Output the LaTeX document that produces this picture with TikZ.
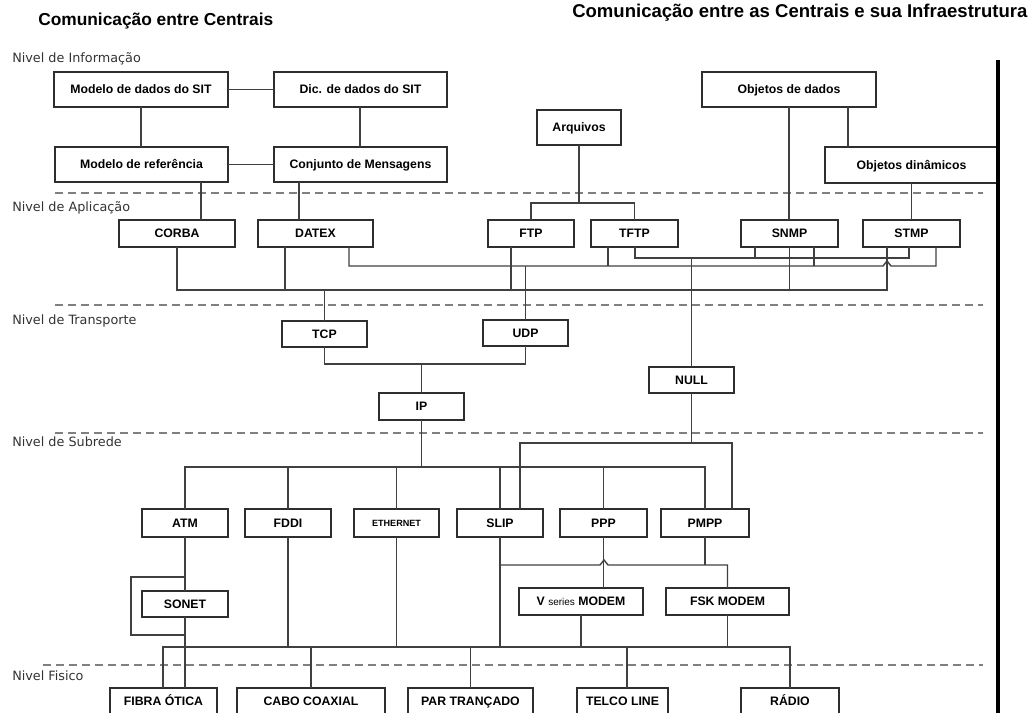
\documentclass[tikz,border=0pt]{standalone}
\usepackage{fontspec}
\setmainfont{Liberation Sans}
\newfontfamily\lvlfont{DejaVu Sans}

% \layerbox[extra options]{x1}{y1}{x2}{y2}{name}{text}: a framed box given by two corners
\newcommand\layerbox[7][]{%
  \node[box, minimum width={(#4-#2)*0.75pt}, minimum height={(#5-#3)*0.75pt}, #1]
    (#6) at ({(#2+#4)/2},{(#3+#5)/2}) {#7};}

\begin{document}
\begin{tikzpicture}[x=0.75pt,y=-0.75pt,
  box/.style={draw=black!82, line width=1.1pt, fill=white, inner sep=0pt, outer sep=0pt,
              text height=6.6pt, text depth=0pt,
              font=\fontsize{9.2}{10}\selectfont\bfseries},
  smallbox/.style={text height=4.9pt, font=\fontsize{6.8}{8}\selectfont\bfseries},
  wire/.style={draw=black!75, line width=1.05pt},
  levelline/.style={draw=black!50, line width=0.8pt, dash pattern=on 6pt off 3.75pt},
  lvl/.style={anchor=west, inner sep=0pt, text=black!80,
              font=\lvlfont\fontsize{9.6}{11}\selectfont},
  title/.style={anchor=west, inner sep=0pt}
]
\useasboundingbox (0,0) rectangle (1035,713);
\clip (0,0) rectangle (1035,713);

% ---------- titles and level names ----------
\node[title, font=\bfseries\fontsize{13}{15}\selectfont] (t1) at (38,21) {Comunicação entre Centrais};
\node[title, font=\bfseries\fontsize{13.9}{15}\selectfont] (t2) at (572,13) {Comunicação entre as Centrais e sua Infraestrutura};

\node[lvl] (lv1) at (12,59)  {Nivel de Informação};
\node[lvl] (lv2) at (12,208) {Nivel de Aplicação};
\node[lvl] (lv3) at (12,321) {Nivel de Transporte};
\node[lvl] (lv4) at (12,442) {Nivel de Subrede};
\node[lvl] (lv5) at (12,676) {Nivel Fisico};

% ---------- level separators ----------
\draw[levelline] (55,193) -- (983,193);
\draw[levelline] (55,305) -- (983,305);
\draw[levelline] (55,433) -- (983,433);
\draw[levelline] (43,665) -- (983,665);

% ---------- boxes ----------
% information level
\layerbox{54}{72}{228}{107}{mdados}{Modelo de dados do SIT}
\layerbox{274}{72}{447}{107}{dic}{Dic. de dados do SIT}
\layerbox{55}{147}{228}{182}{mref}{Modelo de referência}
\layerbox{274}{147}{447}{182}{conj}{Conjunto de Mensagens}
\layerbox{537}{110}{621}{145}{arq}{Arquivos}
\layerbox{702}{72}{876}{107}{objd}{Objetos de dados}
\layerbox{825}{147}{998}{183}{objdin}{Objetos dinâmicos}
% application level
\layerbox{119}{220}{235}{247}{corba}{CORBA}
\layerbox{258}{220}{373}{247}{datex}{DATEX}
\layerbox{488}{220}{574}{247}{ftp}{FTP}
\layerbox{591}{220}{678}{247}{tftp}{TFTP}
\layerbox{741}{220}{838}{247}{snmp}{SNMP}
\layerbox{863}{220}{960}{247}{stmp}{STMP}
% transport level
\layerbox{282}{321}{367}{347}{tcp}{TCP}
\layerbox{483}{320}{568}{346}{udp}{UDP}
\layerbox{379}{393}{464}{420}{ip}{IP}
\layerbox{649}{367}{734}{393}{null}{NULL}
% subnet level
\layerbox{142}{509}{228}{537}{atm}{ATM}
\layerbox{245}{509}{331}{537}{fddi}{FDDI}
\layerbox[smallbox]{354}{509}{439}{537}{eth}{ETHERNET}
\layerbox{457}{509}{543}{537}{slip}{SLIP}
\layerbox{560}{509}{647}{537}{ppp}{PPP}
\layerbox{661}{509}{749}{537}{pmpp}{PMPP}
\layerbox{142}{591}{228}{617}{sonet}{SONET}
\layerbox{519}{588}{643}{615}{vmod}{V {\mdseries\fontsize{7.5}{8}\selectfont series} MODEM}
\layerbox{666}{588}{789}{615}{fsk}{FSK MODEM}
% physical level (boxes run past the lower edge)
\layerbox{110}{688}{217}{714}{fibra}{FIBRA ÓTICA}
\layerbox{237}{688}{385}{714}{cabo}{CABO COAXIAL}
\layerbox{408}{688}{533}{714}{par}{PAR TRANÇADO}
\layerbox{577}{688}{668}{714}{telco}{TELCO LINE}
\layerbox{741}{688}{839}{714}{radio}{RÁDIO}

% ---------- bus lines ----------
\coordinate (busA) at (0,290);
\coordinate (busB) at (0,266);
\coordinate (busC) at (0,258);
\coordinate (busT) at (0,364);
\coordinate (busS) at (0,467);
\coordinate (busN) at (0,443);
\coordinate (busM) at (0,565);
\coordinate (busP) at (0,647);

% information level
\draw[wire] (mdados.east) -- (dic.west);
\draw[wire] (mref.east) -- (conj.west);
\draw[wire] (141,0 |- mdados.south) -- (141,0 |- mref.north);
\draw[wire] (360,0 |- dic.south) -- (360,0 |- conj.north);
\draw[wire] (201,0 |- mref.south) -- (201,0 |- corba.north);
\draw[wire] (299,0 |- conj.south) -- (299,0 |- datex.north);
\draw[wire] (arq.south) -- (arq.south |- 0,203);
\draw[wire] (ftp.north) -- (ftp.north |- 0,203) -- (tftp.north |- 0,203) -- (tftp.north);
\draw[wire] (objd.south) -- (objd.south |- snmp.north);
\draw[wire] (848,0 |- objd.south) -- (848,0 |- objdin.north);
\draw[wire] (objdin.south) -- (objdin.south |- stmp.north);

% application level: TCP bus
\draw[wire] (corba.south) -- (corba.south |- busA) -- (887,290) -- (887,0 |- stmp.south);
\draw[wire] (285,0 |- datex.south) -- (285,290);
\draw[wire] (511,0 |- ftp.south) -- (511,290);
\draw[wire] (snmp.south) -- (snmp.south |- busA);
\draw[wire] (tcp.north |- busA) -- (tcp.north);
% application level: UDP bus (hops over the STMP line)
\draw[wire] (349,0 |- datex.south) -- (349,266) -- (883,266) -- (887,261) -- (891,266)
            -- (936,266) -- (936,0 |- stmp.south);
\draw[wire] (608,0 |- tftp.south) -- (608,266);
\draw[wire] (814,0 |- snmp.south) -- (814,266);
\draw[wire] (udp.north |- busB) -- (udp.north);
% application level: NULL bus
\draw[wire] (635,0 |- tftp.south) -- (635,258) -- (909,258) -- (909,0 |- stmp.south);
\draw[wire] (755,0 |- snmp.south) -- (755,258);
\draw[wire] (null.north |- busC) -- (null.north);

% transport level
\draw[wire] (tcp.south) -- (tcp.south |- busT) -- (udp.south |- busT) -- (udp.south);
\draw[wire] (ip.north |- busT) -- (ip.north);

% subnet level
\draw[wire] (ip.south) -- (ip.south |- busS);
\draw[wire] (atm.north) -- (atm.north |- busS) -- (pmpp.north |- busS) -- (pmpp.north);
\draw[wire] (fddi.north) -- (fddi.north |- busS);
\draw[wire] (eth.north) -- (eth.north |- busS);
\draw[wire] (slip.north) -- (slip.north |- busS);
\draw[wire] (ppp.north) -- (ppp.north |- busS);
\draw[wire] (null.south) -- (null.south |- busN);
\draw[wire] (520,0 |- slip.north) -- (520,443) -- (732,443) -- (732,0 |- pmpp.north);

% ATM / SONET with bypass loop
\draw[wire] (atm.south) -- (sonet.north);
\draw[wire] (atm.south |- 0,577) -- (131,577) -- (131,635) -- (atm.south |- 0,635);
\draw[wire] (sonet.south) -- (sonet.south |- fibra.north);

% modems (the SLIP/PMPP line hops over the PPP line)
\draw[wire] (slip.south |- busM) -- (600,565) -- (604,560) -- (608,565) -- (fsk.north |- busM) -- (fsk.north);
\draw[wire] (pmpp.south) -- (pmpp.south |- busM);
\draw[wire] (ppp.south) -- (ppp.south |- vmod.north);

% physical bus
\draw[wire] (fddi.south) -- (fddi.south |- busP);
\draw[wire] (eth.south) -- (eth.south |- busP);
\draw[wire] (slip.south) -- (slip.south |- busP);
\draw[wire] (vmod.south) -- (vmod.south |- busP);
\draw[wire] (fsk.south) -- (fsk.south |- busP);
\draw[wire] (163,0 |- fibra.north) -- (163,647) -- (radio.north |- busP) -- (radio.north);
\draw[wire] (cabo.north) -- (cabo.north |- busP);
\draw[wire] (par.north) -- (par.north |- busP);
\draw[wire] (627,0 |- telco.north) -- (627,647);

% right border bar
\draw[line width=2.3pt] (998,60) -- (998,713);
\end{tikzpicture}
\end{document}
